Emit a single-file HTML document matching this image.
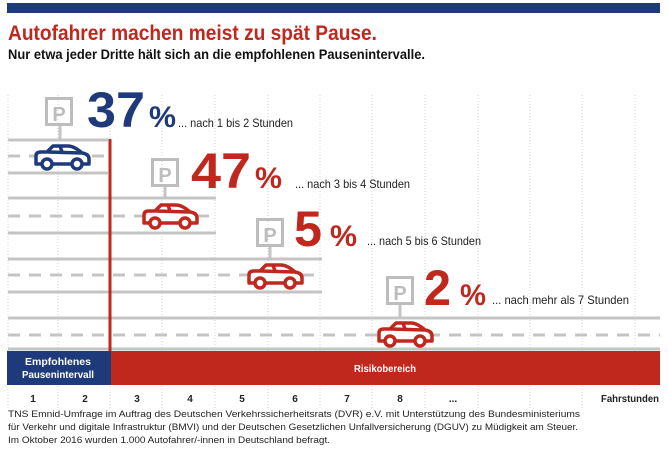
<!DOCTYPE html>
<html><head><meta charset="utf-8"><style>
html,body{margin:0;padding:0;background:#fff;}
svg{display:block;font-family:"Liberation Sans Narrow","Liberation Sans",sans-serif;}
</style></head><body>
<svg width="668" height="462" viewBox="0 0 668 462" xmlns="http://www.w3.org/2000/svg">
<defs>
<g id="car" fill="none" stroke-width="3.5" stroke-linejoin="round">
<path d="M3,20 L3,12 Q3,8 8,8 L14,8 L20,2 L35,2 Q41,2 49,9 Q56,10 56,15 L56,20 Z" fill="#fff"/>
<path d="M15,8 L48,9" />
<path d="M27,2 L29,8"/>
<circle cx="14" cy="20" r="5" fill="#fff"/>
<circle cx="44" cy="20" r="5" fill="#fff"/>
</g>
<g id="sign" fill="none" stroke="#bdbdbd" stroke-width="3">
<rect x="1.5" y="1.5" width="25" height="26"/>
</g>
</defs>
<rect x="7" y="3" width="653" height="10" fill="#1f3a7a"/>
<text x="8" y="40" font-size="21" font-weight="bold" fill="#c0281e" textLength="369" lengthAdjust="spacingAndGlyphs">Autofahrer machen meist zu spät Pause.</text>
<text x="8" y="59" font-size="14" font-weight="bold" fill="#111" textLength="417" lengthAdjust="spacingAndGlyphs">Nur etwa jeder Dritte hält sich an die empfohlenen Pausenintervalle.</text>

<g stroke="#d5d5d5" stroke-width="1" stroke-dasharray="1,2">
<line x1="8" y1="95" x2="8" y2="408"/><line x1="58" y1="95" x2="58" y2="408"/>
<line x1="110" y1="95" x2="110" y2="408"/><line x1="162" y1="95" x2="162" y2="408"/>
<line x1="215" y1="95" x2="215" y2="408"/><line x1="268" y1="95" x2="268" y2="408"/>
<line x1="320" y1="95" x2="320" y2="408"/><line x1="372" y1="95" x2="372" y2="408"/>
<line x1="425" y1="95" x2="425" y2="408"/><line x1="478" y1="95" x2="478" y2="408"/>
<line x1="530" y1="95" x2="530" y2="408"/><line x1="582" y1="95" x2="582" y2="408"/>
<line x1="635" y1="95" x2="635" y2="408"/>
</g>

<g stroke="#c4c4c4" stroke-width="3">
<line x1="8" y1="140" x2="108" y2="140"/><line x1="8" y1="173" x2="108" y2="173"/>
<line x1="8" y1="156" x2="108" y2="156" stroke-dasharray="12,9"/>
<line x1="8" y1="198" x2="216" y2="198"/><line x1="8" y1="233" x2="216" y2="233"/>
<line x1="8" y1="216" x2="216" y2="216" stroke-dasharray="12,9"/>
<line x1="8" y1="259" x2="322" y2="259"/><line x1="8" y1="292" x2="322" y2="292"/>
<line x1="8" y1="275" x2="322" y2="275" stroke-dasharray="12,9"/>
<line x1="8" y1="318" x2="660" y2="318"/>
<line x1="8" y1="335" x2="660" y2="335" stroke-dasharray="12,9"/>
<line x1="8" y1="349" x2="660" y2="349"/>
<line x1="60" y1="126" x2="60" y2="140"/>
<line x1="165" y1="186" x2="165" y2="198"/>
<line x1="270" y1="246" x2="270" y2="259"/>
<line x1="400" y1="304" x2="400" y2="318"/>
</g>

<use href="#sign" x="45" y="97"/><text x="59" y="121" font-size="20" font-weight="bold" fill="#bdbdbd" text-anchor="middle">P</text>
<use href="#sign" x="151" y="158"/><text x="165" y="182" font-size="20" font-weight="bold" fill="#bdbdbd" text-anchor="middle">P</text>
<use href="#sign" x="256" y="218"/><text x="270" y="242" font-size="20" font-weight="bold" fill="#bdbdbd" text-anchor="middle">P</text>
<use href="#sign" x="386" y="276"/><text x="400" y="300" font-size="20" font-weight="bold" fill="#bdbdbd" text-anchor="middle">P</text>

<use href="#car" x="33" y="144" stroke="#1f3a7a"/>
<use href="#car" x="141" y="203" stroke="#c0281e"/>
<use href="#car" x="246" y="263" stroke="#c0281e"/>
<use href="#car" x="376" y="321" stroke="#c0281e"/>

<text x="87" y="127" font-size="50" font-weight="bold" fill="#1f3a7a" textLength="58" lengthAdjust="spacingAndGlyphs">37</text>
<text x="149" y="127" font-size="30" font-weight="bold" fill="#1f3a7a" textLength="27" lengthAdjust="spacingAndGlyphs">%</text>
<text x="178" y="127" font-size="12" fill="#222" textLength="115" lengthAdjust="spacingAndGlyphs">... nach 1 bis 2 Stunden</text>
<text x="191" y="188" font-size="50" font-weight="bold" fill="#c0281e" textLength="60" lengthAdjust="spacingAndGlyphs">47</text>
<text x="255" y="188" font-size="30" font-weight="bold" fill="#c0281e" textLength="27" lengthAdjust="spacingAndGlyphs">%</text>
<text x="295" y="188" font-size="12" fill="#222" textLength="115" lengthAdjust="spacingAndGlyphs">... nach 3 bis 4 Stunden</text>
<text x="294" y="246" font-size="50" font-weight="bold" fill="#c0281e" textLength="28" lengthAdjust="spacingAndGlyphs">5</text>
<text x="330" y="246" font-size="30" font-weight="bold" fill="#c0281e" textLength="27" lengthAdjust="spacingAndGlyphs">%</text>
<text x="367" y="245" font-size="12" fill="#222" textLength="114" lengthAdjust="spacingAndGlyphs">... nach 5 bis 6 Stunden</text>
<text x="424" y="305" font-size="50" font-weight="bold" fill="#c0281e" textLength="27" lengthAdjust="spacingAndGlyphs">2</text>
<text x="460" y="305" font-size="30" font-weight="bold" fill="#c0281e" textLength="26" lengthAdjust="spacingAndGlyphs">%</text>
<text x="492" y="304" font-size="12" fill="#222" textLength="137" lengthAdjust="spacingAndGlyphs">... nach mehr als 7 Stunden</text>

<line x1="110" y1="139" x2="110" y2="352" stroke="#c0281e" stroke-width="3"/>

<rect x="7" y="351" width="104" height="34" fill="#1f3a7a"/>
<rect x="111" y="351" width="549" height="34" fill="#c0281e"/>
<text x="58" y="365" font-size="10.5" font-weight="bold" fill="#fff" text-anchor="middle" textLength="66" lengthAdjust="spacingAndGlyphs">Empfohlenes</text>
<text x="58" y="378" font-size="10.5" font-weight="bold" fill="#fff" text-anchor="middle" textLength="72" lengthAdjust="spacingAndGlyphs">Pausenintervall</text>
<text x="385" y="372" font-size="10.5" font-weight="bold" fill="#fff" text-anchor="middle" textLength="62" lengthAdjust="spacingAndGlyphs">Risikobereich</text>

<g font-size="10" font-weight="bold" fill="#222" text-anchor="middle">
<text x="33" y="402">1</text><text x="85" y="402">2</text><text x="137" y="402">3</text>
<text x="190" y="402">4</text><text x="242" y="402">5</text><text x="295" y="402">6</text>
<text x="347" y="402">7</text><text x="400" y="402">8</text><text x="453" y="402">...</text>
<text x="630" y="402" textLength="58" lengthAdjust="spacingAndGlyphs">Fahrstunden</text>
</g>

<g font-size="9.5" fill="#222">
<text x="8" y="417" textLength="572" lengthAdjust="spacingAndGlyphs">TNS Emnid-Umfrage im Auftrag des Deutschen Verkehrssicherheitsrats (DVR) e.V. mit Unterstützung des Bundesministeriums</text>
<text x="8" y="430" textLength="570" lengthAdjust="spacingAndGlyphs">für Verkehr und digitale Infrastruktur (BMVI) und der Deutschen Gesetzlichen Unfallversicherung (DGUV) zu Müdigkeit am Steuer.</text>
<text x="8" y="443" textLength="322" lengthAdjust="spacingAndGlyphs">Im Oktober 2016 wurden 1.000 Autofahrer/-innen in Deutschland befragt.</text>
</g>
</svg>
</body></html>
